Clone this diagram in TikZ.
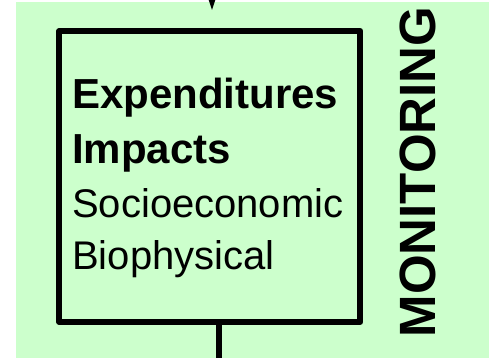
\documentclass[tikz,border=0pt]{standalone}
\usepackage{fontspec}
\setmainfont{Liberation Sans}
\usetikzlibrary{arrows.meta}
\definecolor{bggreen}{HTML}{CCFFCC}
\begin{document}
\begin{tikzpicture}[x=1pt,y=-1pt,
  thick line/.style={line width=6pt,line join=round},
  boxtext/.style={anchor=base west,inner sep=0pt,font=\fontsize{40}{48}\selectfont},
  boldtext/.style={boxtext,font=\fontsize{42}{48}\selectfont\bfseries}]
\useasboundingbox (0,0) rectangle (489,358);
\fill[bggreen] (16,2) rectangle (489,358);
% box
\node[draw,thick line,minimum width=301pt,minimum height=291pt,inner sep=0pt,anchor=north west] (box) at (56.3,28) {};
% incoming arrow head (top, clipped)
\coordinate (intop) at (212,-1);
\coordinate (intip) at (212,10);
\fill (intip) -- ([xshift=-3.6pt]intop) -- ([xshift=3.6pt]intop) -- cycle;
% outgoing line
\coordinate (outend) at (219,360);
\draw[line width=6pt] (box.south -| outend) -- (outend);
% texts
\node[boldtext] (l1) at (72,109) {Expenditures};
\node[boldtext] (l2) at (72,163) {Impacts};
\node[boxtext] (l3) at (72,217) {Socioeconomic};
\node[boxtext] (l4) at (72,269) {Biophysical};
\node[rotate=90,anchor=base,inner sep=0pt,font=\fontsize{51}{60}\selectfont\bfseries] (mon) at (435,172) {MONITORING};
\end{tikzpicture}
\end{document}
